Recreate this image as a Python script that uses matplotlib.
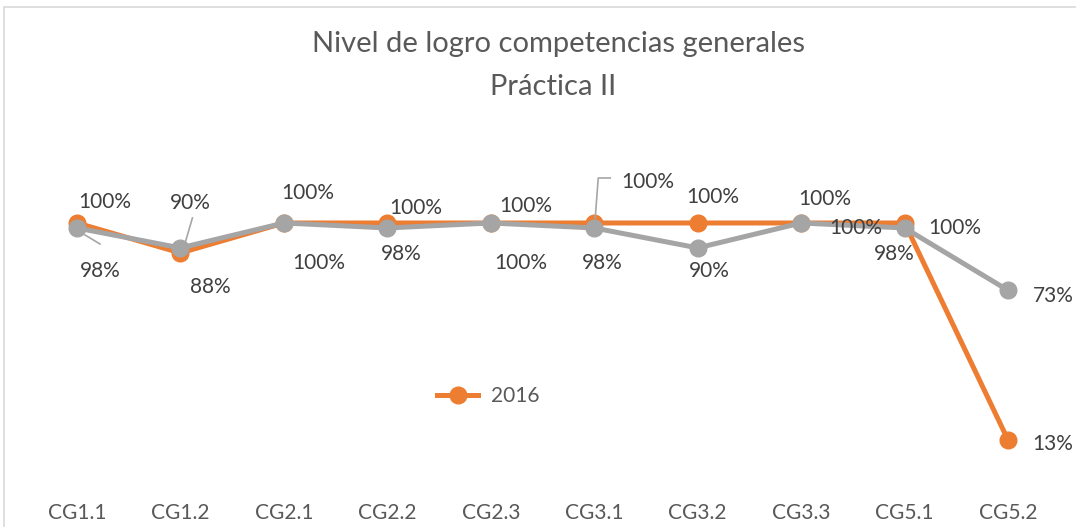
import matplotlib
matplotlib.use("Agg")
import matplotlib.pyplot as plt
from matplotlib.patches import Rectangle
from matplotlib.lines import Line2D

plt.rcParams['font.family'] = ['Lato', 'DejaVu Sans']

categories = ["CG1.1", "CG1.2", "CG2.1", "CG2.2", "CG2.3", "CG3.1", "CG3.2", "CG3.3", "CG5.1", "CG5.2"]
series_2016 = [1.00, 0.88, 1.00, 1.00, 1.00, 1.00, 1.00, 1.00, 1.00, 0.13]
series_gray = [0.98, 0.90, 1.00, 0.98, 1.00, 0.98, 0.90, 1.00, 0.98, 0.73]
legend_label = "2016"
title_line1 = "Nivel de logro competencias generales"
title_line2 = "Práctica II"

# label offsets in pixels (dx, dy)
off_orange = [(28, 21), (30, -34), (24, 30), (28, 15), (35, 17), (54, 41), (15, 26), (24, 24), (50, -5), (45, -4)]
off_gray = [(23, -43), (10, 45), (35, -40), (14, -26), (30, -40), (8, -35), (12, -23), (55, -5), (-10, -26), (45, -6)]

ORANGE = "#ED7D31"
GRAY = "#A5A5A5"
TXT = "#404040"
FS = 15

W, H = 1076, 527
fig = plt.figure(figsize=(W / 100, H / 100), dpi=100)
left = 25.25 / W
right = 1059.75 / W
bottom = 1 - 472.4 / H
top = 1 - 173.1 / H
ax = fig.add_axes([left, bottom, right - left, top - bottom])
ax.set_xlim(-0.5, len(categories) - 0.5)
ax.set_ylim(0, 1.2)
for s in ax.spines.values():
    s.set_visible(False)
ax.set_yticks([])
x = list(range(len(categories)))
ax.set_xticks(x)
ax.set_xticklabels(categories, fontsize=FS, color="#595959")
ax.tick_params(axis='x', length=0, pad=22)

ax.plot(x, series_2016, color=ORANGE, lw=3.6, marker='o', ms=12, solid_capstyle='round', zorder=3, label=legend_label)
ax.plot(x, series_gray, color=GRAY, lw=3.6, marker='o', ms=12, solid_capstyle='round', zorder=4)

def lab(i, v, off):
    ax.annotate(f"{round(v*100):d}%", xy=(i, v), xytext=off, textcoords='offset pixels',
                ha='center', va='center', fontsize=FS, color=TXT, zorder=6)

for i, v in enumerate(series_2016):
    lab(i, v, off_orange[i])
for i, v in enumerate(series_gray):
    lab(i, v, off_gray[i])

def leader(i, v, pts):
    px, py = ax.transData.transform((i, v))
    inv = ax.transData.inverted()
    dpts = [inv.transform((px + a, py + b)) for a, b in pts]
    ax.plot([p[0] for p in dpts], [p[1] for p in dpts], color="#A6A6A6", lw=1.2, zorder=5, clip_on=False)

leader(0, series_gray[0], [(8, -7), (23, -16)])
leader(1, series_gray[1], [(12, 30), (5, 6)])
leader(5, series_2016[5], [(1, 5), (4, 45), (16, 45)])

ax.legend(handles=[Line2D([], [], color=ORANGE, lw=3.6, marker='o', ms=12)], labels=[legend_label],
          loc='center', bbox_to_anchor=(488 / W, 1 - 396 / H), bbox_transform=fig.transFigure,
          frameon=False, fontsize=FS, handlelength=2.0, handletextpad=0.6, labelcolor="#595959")

fig.text(0.519, 1 - 44 / H, title_line1, ha='center', va='center', fontsize=21, color="#595959")
fig.text(0.514, 1 - 87 / H, title_line2, ha='center', va='center', fontsize=21, color="#595959")

fig.patches.append(Rectangle((4 / W, -0.1), 1.2, 1 - 7 / H + 0.1, transform=fig.transFigure,
                             fill=False, edgecolor="#D9D9D9", lw=1.2))

fig.savefig("out.png", dpi=100)
